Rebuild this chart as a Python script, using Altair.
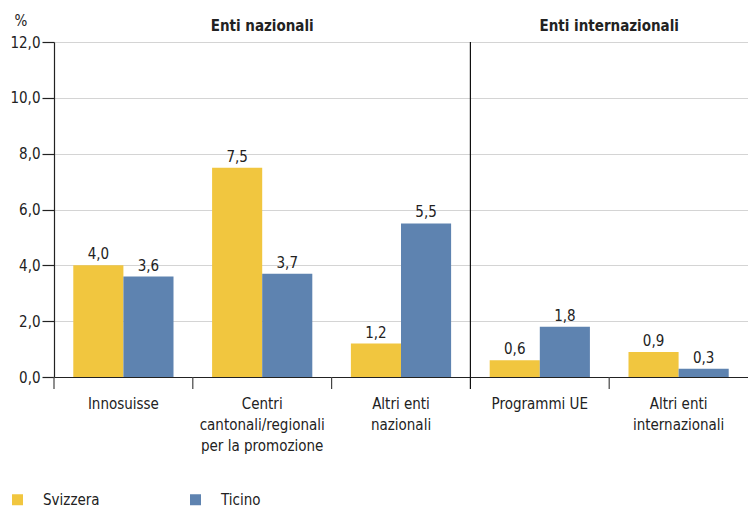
import altair as alt
import pandas as pd

categories = [
    "Innosuisse",
    "Centri\ncantonali/regionali\nper la promozione",
    "Altri enti\nnazionali",
    "Programmi UE",
    "Altri enti\ninternazionali",
]
series = ["Svizzera", "Ticino"]
svizzera = [4.0, 7.5, 1.2, 0.6, 0.9]
ticino = [3.6, 3.7, 5.5, 1.8, 0.3]
colors = ["#F1C63F", "#5E83B0"]
y_ticks = [0, 2, 4, 6, 8, 10, 12]
section_titles = ["Enti nazionali", "Enti internazionali"]

rows = []
for c, s, t in zip(categories, svizzera, ticino):
    rows.append({"cat": c, "serie": series[0], "v": s})
    rows.append({"cat": c, "serie": series[1], "v": t})
df = pd.DataFrame(rows)
catdf = pd.DataFrame({"cat": categories})

W, H = 694, 335
FONT = "'DejaVu Sans Condensed', Roboto, sans-serif"
FS = 15

xscale = alt.Scale(domain=categories, paddingInner=0, paddingOuter=0)
yscale = alt.Scale(domain=[0, 12], nice=False)
xoff = alt.XOffset("serie:N", scale=alt.Scale(domain=series, paddingOuter=0.385, paddingInner=0))

x_enc = alt.X("cat:N", scale=xscale, sort=categories,
              axis=alt.Axis(labels=False, ticks=False, title=None, domainColor="#222",
                            domainWidth=1.2, grid=False))
y_enc = alt.Y("v:Q", scale=yscale,
              axis=alt.Axis(values=y_ticks, grid=True, gridColor="#d4d4d4", gridWidth=1.2,
                            labelExpr="replace(format(datum.value, '.1f'), '.', ',')",
                            labelFontSize=FS, labelColor="#222", labelPadding=2,
                            tickSize=12, tickColor="#222", tickWidth=1.2,
                            domainColor="#222", domainWidth=1.2,
                            title="%", titleAngle=0, titleX=-40, titleY=-22,
                            titleAlign="left", titleBaseline="middle",
                            titleFontSize=FS, titleFontWeight="normal", titleColor="#222"))

bars = alt.Chart(df).mark_bar().encode(
    x=x_enc,
    xOffset=xoff,
    y=y_enc,
    color=alt.Color("serie:N", scale=alt.Scale(domain=series, range=colors),
                    legend=alt.Legend(title=None, orient="none", direction="horizontal",
                                      legendX=-44, legendY=450, symbolType="square",
                                      symbolSize=121, symbolStrokeWidth=0,
                                      labelFontSize=FS, labelColor="#222", labelOffset=18,
                                      columnPadding=88, labelFont=FONT)),
)

labels = alt.Chart(df).transform_calculate(
    lab="replace(format(datum.v, '.1f'), '.', ',')"
).mark_text(baseline="bottom", dy=-3, fontSize=FS, color="#222", font=FONT).encode(
    x=alt.X("cat:N", scale=xscale, sort=categories),
    xOffset=xoff,
    y=alt.Y("v:Q", scale=yscale),
    text="lab:N",
)

cat_labels = alt.Chart(catdf).mark_text(
    baseline="top", lineBreak="\n", lineHeight=21, fontSize=FS, color="#222", font=FONT
).encode(
    x=alt.X("cat:N", scale=xscale, sort=categories),
    y=alt.value(H + 20),
    text="cat:N",
)

tickdf = pd.DataFrame({"cat": [categories[0], categories[1], categories[2], categories[4]]})
ticks = alt.Chart(tickdf).mark_rule(color="#444", strokeWidth=1.2).encode(
    x=alt.X("cat:N", scale=xscale, sort=categories, bandPosition=0),
    y=alt.value(H),
    y2=alt.value(H + 12),
)

sepdf = pd.DataFrame({"cat": [categories[3]]})
sep = alt.Chart(sepdf).mark_rule(color="#111", strokeWidth=1.2).encode(
    x=alt.X("cat:N", scale=xscale, sort=categories, bandPosition=0),
    y=alt.value(0),
    y2=alt.value(H + 12),
)

t1 = alt.Chart(pd.DataFrame({"cat": [categories[1]], "t": [section_titles[0]]})).mark_text(
    fontSize=FS, fontWeight="bold", color="#222", font=FONT, baseline="middle"
).encode(
    x=alt.X("cat:N", scale=xscale, sort=categories),
    y=alt.value(-16),
    text="t:N",
)
t2 = alt.Chart(pd.DataFrame({"cat": [categories[4]], "t": [section_titles[1]]})).mark_text(
    fontSize=FS, fontWeight="bold", color="#222", font=FONT, baseline="middle"
).encode(
    x=alt.X("cat:N", scale=xscale, sort=categories, bandPosition=0),
    y=alt.value(-16),
    text="t:N",
)

chart = alt.layer(bars, labels, cat_labels, ticks, sep, t1, t2).properties(
    width=W, height=H, padding={"left": 1, "top": 5, "right": 0, "bottom": 0}
).configure_view(stroke=None).configure(font=FONT).configure_axis(labelFont=FONT, titleFont=FONT)

chart.save("out.html", embed_options={"renderer": "svg", "actions": False})
